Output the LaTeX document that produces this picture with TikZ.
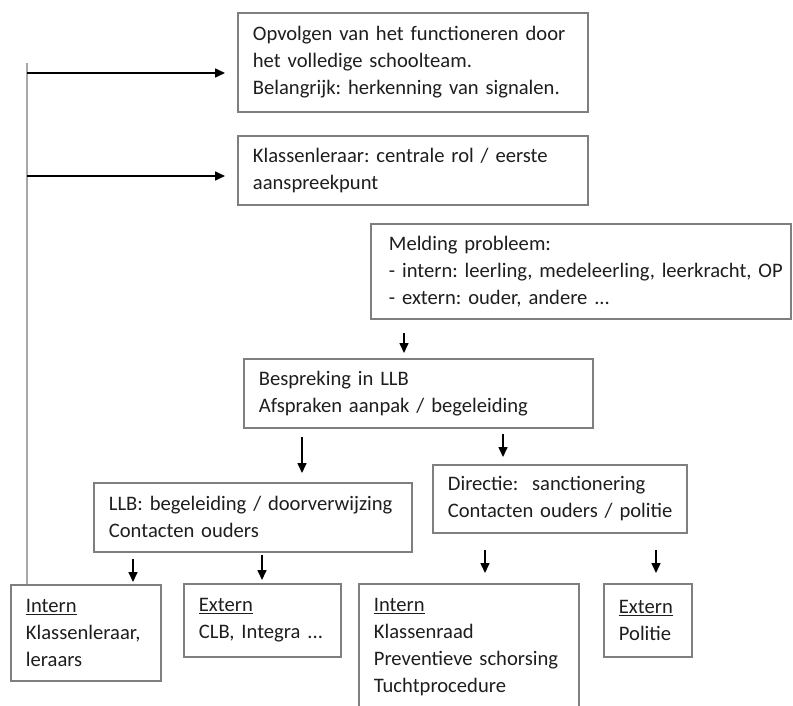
\documentclass[tikz,border=0pt]{standalone}
\usepackage{fontspec}
\setmainfont{Carlito}
\usetikzlibrary{arrows.meta}
\definecolor{boxgray}{HTML}{7F7F7F}
\definecolor{linegray}{HTML}{A8A8A8}
\definecolor{txt}{HTML}{1E1E1E}
\frenchspacing
\begin{document}
\begin{tikzpicture}[x=1pt,y=-1pt,
  box/.style={draw=boxgray, line width=1.8pt, inner xsep=15pt, inner ysep=0pt,
    align=left, anchor=north west, text=txt,
    font=\fontsize{20.6}{27}\selectfont\frenchspacing},
  arr/.style={draw=black, line width=1.6pt, -{Triangle[length=10pt,width=9pt]}},
  vline/.style={draw=linegray, line width=2pt},
]
\useasboundingbox (0,0) rectangle (793,706);
\clip (0,0) rectangle (793,706);

\node[box, text width=320pt, minimum height=99pt] (b1) at (237,12)
  {\mbox{Opvolgen van het functioneren door}\\\mbox{het volledige schoolteam.}\\\mbox{Belangrijk: herkenning van signalen.}};
\node[box, text width=320pt, minimum height=69pt] (b2) at (237,135)
  {\mbox{Klassenleraar: centrale rol / eerste}\\\mbox{aanspreekpunt}};
\node[box, inner xsep=18pt, text width=384pt, minimum height=95pt] (mel) at (370,223)
  {\mbox{Melding probleem:}\\\mbox{- intern: leerling, medeleerling,\ leerkracht, OP}\\\mbox{- extern: ouder, andere ...}};
\node[box, text width=319pt, minimum height=69pt] (besp) at (243,358)
  {\mbox{Bespreking in LLB}\\\mbox{Afspraken aanpak / begeleiding}};
\node[box, text width=288pt, minimum height=69pt] (llb) at (93,482)
  {\mbox{LLB: begeleiding / doorverwijzing}\\\mbox{Contacten ouders}};
\node[box, text width=224pt, minimum height=68pt] (dir) at (432,464)
  {\mbox{Directie:\ \ sanctionering}\\\mbox{Contacten ouders / politie}};
\node[box, text width=120pt, minimum height=96pt] (in1) at (10,584)
  {\mbox{\underline{Intern}}\\\mbox{Klassenleraar,}\\\mbox{leraars}};
\node[box, text width=127pt, minimum height=73pt] (ex1) at (183,583)
  {\mbox{\underline{Extern}}\\\mbox{CLB, Integra ...}};
\node[box, text width=190pt, minimum height=126pt] (in2) at (358,583)
  {\mbox{\underline{Intern}}\\\mbox{Klassenraad}\\\mbox{Preventieve schorsing}\\\mbox{Tuchtprocedure}};
\node[box, text width=58pt, minimum height=73pt] (ex2) at (603,583)
  {\mbox{\underline{Extern}}\\\mbox{Politie}};

% left vertical line and arrows
\coordinate (vtop) at (27,63);
\coordinate (h1) at (27,73);
\coordinate (h2) at (27,176);
\draw[vline] (vtop) -- (vtop |- in1.north);
\draw[arr, shorten >=12pt] (h1) -- (h1 -| b1.west);
\draw[arr, shorten >=12pt] (h2) -- (h2 -| b2.west);

% vertical arrows
\coordinate (a1) at (404,0);
\coordinate (a2) at (302,0);
\coordinate (a3) at (503,0);
\coordinate (a4) at (133,0);
\coordinate (a5) at (262,0);
\coordinate (a6) at (485,0);
\coordinate (a7) at (656,0);
\draw[arr, shorten <=13pt, shorten >=5pt] (mel.south -| a1) -- (besp.north -| a1);
\draw[arr, shorten <=8pt, shorten >=9pt] (besp.south -| a2) -- (llb.north -| a2);
\draw[arr, shorten <=5pt, shorten >=7pt] (besp.south -| a3) -- (dir.north -| a3);
\draw[arr, shorten <=6pt, shorten >=2pt] (llb.south -| a4) -- (in1.north -| a4);
\draw[arr, shorten <=2pt, shorten >=3pt] (llb.south -| a5) -- (ex1.north -| a5);
\draw[arr, shorten <=16pt, shorten >=10pt] (dir.south -| a6) -- (in2.north -| a6);
\draw[arr, shorten <=16pt, shorten >=10pt] (dir.south -| a7) -- (ex2.north -| a7);
\end{tikzpicture}
\end{document}
